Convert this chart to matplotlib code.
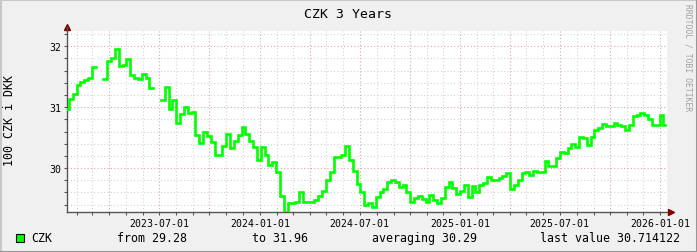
import matplotlib
matplotlib.use("Agg")
import matplotlib.pyplot as plt
import matplotlib.dates as mdates
import matplotlib.ticker as mticker
from matplotlib.lines import Line2D
from matplotlib.patches import Rectangle
import numpy as np
import pandas as pd

nan = np.nan

# weekly readings of 100 CZK in DKK, first week starting 2023-01-14
start_date = "2023-01-14"
czk = [
    30.97, 31.14, 31.22, 31.36, 31.42, 31.44, 31.48, 31.66, nan, nan,
    31.46, 31.76, 31.80, 31.96, 31.68, 31.69, 31.79, 31.52, 31.48, 31.46,
    31.55, 31.48, 31.31, nan, nan, 31.11, 31.33, 30.97, 31.11, 30.74,
    30.89, 31.00, 30.91, 30.92, 30.54, 30.42, 30.60, 30.52, 30.43, 30.22,
    30.21, 30.36, 30.56, 30.33, 30.45, 30.55, 30.68, 30.56, 30.45, 30.34,
    30.14, 30.34, 30.21, 30.05, 30.10, 29.93, 29.55, 29.28, 29.42, 29.43,
    29.45, 29.60, 29.45, 29.45, 29.44, 29.47, 29.55, 29.63, 29.80, 29.93,
    30.18, 30.19, 30.22, 30.36, 30.14, 29.95, 29.74, 29.61, 29.40, 29.42,
    29.36, 29.52, 29.61, 29.66, 29.77, 29.80, 29.78, 29.69, 29.73, 29.61,
    29.44, 29.51, 29.55, 29.50, 29.44, 29.56, 29.47, 29.43, 29.51, 29.69,
    29.78, 29.67, 29.58, 29.63, 29.73, 29.52, 29.70, 29.61, 29.72, 29.76,
    29.86, 29.81, 29.81, 29.83, 29.87, 29.92, 29.66, 29.72, 29.80, 29.92,
    29.93, 29.89, 29.95, 29.93, 29.93, 30.11, 30.04, 30.03, 30.16, 30.26,
    30.25, 30.33, 30.40, 30.34, 30.51, 30.49, 30.38, 30.51, 30.62, 30.66,
    30.73, 30.69, 30.69, 30.74, 30.71, 30.69, 30.63, 30.71, 30.85, 30.87,
    30.91, 30.87, 30.80, 30.71, 30.71, 30.87, 30.71,
]
dates = pd.date_range(start_date, periods=len(czk), freq="7D")

# legend summary as printed on the graph
stat_min = "29.28"
stat_max = "31.96"
stat_avg = "30.29"
stat_last = "30.714122"

mono = "DejaVu Sans Mono"
back = "#f0f0f0"
grid_minor = "#d4d4d4"
grid_major = "#d9a8a8"
axis_col = "#555555"
arrow_col = "#800000"

fig = plt.figure(figsize=(6.97, 2.53), dpi=100, facecolor=back)
ax = fig.add_axes([67 / 697, 40 / 253, 600 / 697, 181 / 253])
ax.set_facecolor("white")

ax.plot(dates, czk, color="#00ff00", linewidth=1.9, drawstyle="steps-mid",
        solid_joinstyle="miter", zorder=3)

ax.set_xlim(pd.Timestamp("2023-01-14"), pd.Timestamp("2026-01-13"))
ax.set_ylim(29.28, 32.25)

# grid: monthly / quarterly, 0.2 / 1.0
ax.xaxis.set_major_locator(mdates.MonthLocator(bymonth=(1, 4, 7, 10)))
ax.xaxis.set_minor_locator(mdates.MonthLocator())
ax.xaxis.set_major_formatter(mticker.FuncFormatter(
    lambda v, p: mdates.num2date(v).strftime("%Y-%m-%d")
    if mdates.num2date(v).month in (1, 7) else ""))
ax.yaxis.set_major_locator(mticker.MultipleLocator(1))
ax.yaxis.set_minor_locator(mticker.MultipleLocator(0.2))
ax.yaxis.set_major_formatter(mticker.FormatStrFormatter("%d"))

dots = (0, (1, 2))
ax.grid(which="minor", color=grid_minor, linestyle=dots, linewidth=0.8)
ax.grid(which="major", color=grid_major, linestyle=dots, linewidth=0.8)
ax.set_axisbelow(True)

for s in ("top", "right"):
    ax.spines[s].set_visible(False)
for s in ("left", "bottom"):
    ax.spines[s].set_color(axis_col)
    ax.spines[s].set_linewidth(1)

ax.tick_params(which="both", direction="out", length=2, width=0.8,
               color=axis_col, labelsize=7.1, pad=2)
for lab in ax.get_xticklabels() + ax.get_yticklabels():
    lab.set_fontfamily(mono)

# axis arrows
ax.plot([0], [1.02], marker="^", markersize=4.5, color=arrow_col,
        transform=ax.transAxes, clip_on=False)
ax.plot([1.006], [0], marker=">", markersize=4.5, color=arrow_col,
        transform=ax.transAxes, clip_on=False)
ax.plot([0, 0], [1.0, 1.02], color=axis_col, linewidth=1,
        transform=ax.transAxes, clip_on=False)

# title and labels
fig.text(348 / 697, 1 - 14 / 253, "CZK 3 Years", family=mono, fontsize=9.5,
         ha="center", va="center")
fig.text(10 / 697, 1 - 121 / 253, "100 CZK i DKK", family=mono, fontsize=8.4,
         rotation=90, ha="center", va="center")
fig.text(688 / 697, 1 - 58 / 253, "RRDTOOL / TOBI OETIKER", family=mono,
         fontsize=5.8, rotation=270, ha="center", va="center", color="#a0a0a0")

# legend row
ly = 1 - 239 / 253
fig.add_artist(Rectangle((16 / 697, 1 - 243 / 253), 8 / 697, 8 / 253,
                         facecolor="#00ff00", edgecolor="black", linewidth=0.8))
fig.text(31 / 697, ly, "CZK", family=mono, fontsize=8.4, va="center")
fig.text(117 / 697, ly, "from " + stat_min, family=mono, fontsize=8.4, va="center")
fig.text(252 / 697, ly, "to " + stat_max, family=mono, fontsize=8.4, va="center")
fig.text(372 / 697, ly, "averaging " + stat_avg, family=mono, fontsize=8.4, va="center")
fig.text(540 / 697, ly, "last value " + stat_last, family=mono, fontsize=8.4, va="center")

# shaded frame
fig.add_artist(Line2D([0, 1], [1 - 0.5 / 253] * 2, color="#c8c8c8", linewidth=1.5))
fig.add_artist(Line2D([0.5 / 697] * 2, [0, 1], color="#c8c8c8", linewidth=1.5))
fig.add_artist(Line2D([0, 1], [0.5 / 253] * 2, color="#969696", linewidth=1.5))
fig.add_artist(Line2D([1 - 0.5 / 697] * 2, [0, 1], color="#969696", linewidth=1.5))

fig.savefig("out.png", dpi=100, facecolor=back)
